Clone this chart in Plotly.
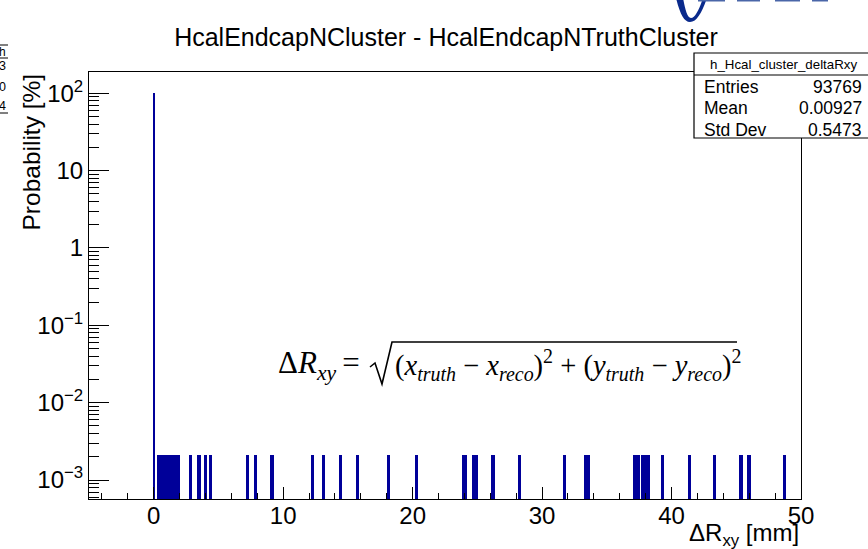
import plotly.graph_objects as go

# ---------------- data ----------------
bin_width = 0.25
peak_x = [0.0]
peak_prob = [99.91]
tail_x = [0.375, 0.625, 0.875, 1.125, 1.375, 1.625, 1.875,
          2.86, 3.5, 4.0, 4.4, 7.23, 7.88, 9.14, 12.25, 13.13, 14.42, 15.73,
          18.14, 20.3, 23.9, 24.05, 24.68, 24.93, 26.2, 28.28, 31.76, 33.4, 33.55,
          37.15, 37.4, 37.8, 38.0, 38.2, 39.33, 41.37, 43.3, 45.36, 45.98, 48.72]
tail_prob = [0.00213, 0.00213, 0.00213, 0.00213, 0.00213, 0.00213, 0.00213,
             0.00213, 0.00213, 0.00213, 0.00213, 0.00213, 0.00213, 0.00213, 0.00213, 0.00213, 0.00213, 0.00213,
             0.00213, 0.00213, 0.00213, 0.00213, 0.00213, 0.00213, 0.00213, 0.00213, 0.00213, 0.00213, 0.00213,
             0.00213, 0.00213, 0.00213, 0.00213, 0.00213, 0.00213, 0.00213, 0.00213, 0.00213, 0.00213, 0.00213]
y_tickvals = [0.001, 0.01, 0.1, 1, 10, 100]
y_ticktext = ["10<sup>−3</sup>", "10<sup>−2</sup>", "10<sup>−1</sup>", "1", "10", "10<sup>2</sup>"]
hist_name = "h_Hcal_cluster_deltaRxy"
stat_labels = ["Entries", "Mean", "Std Dev"]
stat_values = ["93769", "0.00927", "0.5473"]
title_text = "HcalEndcapNCluster - HcalEndcapNTruthCluster"

# ---------------- layout geometry ----------------
W, H = 868, 549
L, R, T, B = 89, 801, 72, 499
def px(x):
    return (x - L) / (R - L)
def py(y):
    return (B - y) / (B - T)

BLUE = "#000099"
SANS = "Liberation Sans, Arial, sans-serif"
SERIF = "Liberation Serif, Times New Roman, serif"

fig = go.Figure()
fig.add_trace(go.Bar(x=peak_x, y=peak_prob, width=0.07,
                     marker=dict(color=BLUE, line=dict(width=0)), showlegend=False))
fig.add_trace(go.Bar(x=tail_x, y=tail_prob, width=bin_width,
                     marker=dict(color=BLUE, line=dict(width=0)), showlegend=False))

minor_y = [m * 10 ** e for e in range(-4, 3) for m in range(2, 10)]

fig.update_layout(
    width=W, height=H,
    margin=dict(l=L, r=W - R, t=T, b=H - B, pad=0),
    paper_bgcolor="white", plot_bgcolor="white",
    barmode="overlay", bargap=0,
    font=dict(family=SANS, color="black"),
    title=dict(text=title_text, x=446 / W, xref="container", xanchor="center",
               y=1 - 37 / H, yref="container", yanchor="middle",
               font=dict(size=25, family=SANS, color="black")),
    xaxis=dict(range=[-5, 50], tick0=0, dtick=10, ticks="inside", ticklen=12,
               tickcolor="black", tickwidth=1, ticklabelstandoff=-5,
               minor=dict(dtick=2, tick0=0, ticks="inside", ticklen=6, tickcolor="black", showgrid=False),
               showline=True, mirror=True, linecolor="black", linewidth=1,
               showgrid=False, zeroline=False, tickfont=dict(size=24, family=SANS)),
    yaxis=dict(type="log", range=[-3.245, 2.275], tickmode="array",
               tickvals=y_tickvals, ticktext=y_ticktext,
               ticks="inside", ticklen=20, tickcolor="black", tickwidth=1,
               minor=dict(tickmode="array", tickvals=minor_y, ticks="inside", ticklen=10,
                          tickcolor="black", showgrid=False),
               showline=True, mirror=True, linecolor="black", linewidth=1,
               showgrid=False, zeroline=False, tickfont=dict(size=24, family=SANS)),
)

shapes = []
annotations = []

# stats box
shapes.append(dict(type="rect", xref="paper", yref="paper", x0=px(694), x1=px(876), y0=py(138), y1=py(53),
                   fillcolor="white", line=dict(color="black", width=1.2), layer="above"))
shapes.append(dict(type="line", xref="paper", yref="paper", x0=px(694), x1=px(876), y0=py(75), y1=py(75),
                   line=dict(color="black", width=1.2), layer="above"))
annotations.append(dict(text=hist_name, xref="paper", yref="paper", x=px(783), y=py(65),
                        xanchor="center", yanchor="middle", showarrow=False,
                        font=dict(size=13.3, family=SANS)))
for i, (lab, val) in enumerate(zip(stat_labels, stat_values)):
    yy = 86.5 + i * 21.5
    annotations.append(dict(text=lab, xref="paper", yref="paper", x=px(702), y=py(yy),
                            xanchor="left", yanchor="middle", showarrow=False,
                            font=dict(size=17.5, family=SANS)))
    annotations.append(dict(text=val, xref="paper", yref="paper", x=px(864), y=py(yy),
                            xanchor="right", yanchor="middle", showarrow=False,
                            font=dict(size=17.5, family=SANS)))

# clipped neighbouring stats box at left edge
for yy in (45, 58, 113):
    shapes.append(dict(type="line", xref="paper", yref="paper", x0=px(0), x1=px(8), y0=py(yy), y1=py(yy),
                       line=dict(color="black", width=1)))
annotations.append(dict(text="h", xref="paper", yref="paper", x=px(8), y=py(52), xanchor="right",
                        yanchor="middle", showarrow=False, font=dict(size=12, family=SANS)))
for ch, yy in (("3", 66), ("0", 87), ("4", 106)):
    annotations.append(dict(text=ch, xref="paper", yref="paper", x=px(8), y=py(yy), xanchor="right",
                            yanchor="middle", showarrow=False, font=dict(size=12.5, family=SANS)))

# clipped logo at top
shapes.append(dict(type="path", xref="paper", yref="paper",
                   path="M {},{} C {},{} {},{} {},{} C {},{} {},{} {},{} L {},{} C {},{} {},{} {},{} C {},{} {},{} {},{} Z".format(
                       px(676), py(-2), px(680), py(14), px(684), py(22), px(690), py(22),
                       px(697), py(22), px(702), py(12), px(707), py(-2),
                       px(703), py(-2),
                       px(699), py(10), px(695), py(18), px(691), py(18),
                       px(687), py(18), px(685), py(8), px(683), py(-2)),
                   fillcolor="#0a2a8c", line=dict(width=0)))
for x0, x1 in ((698, 725), (737, 760), (775, 800), (812, 828)):
    shapes.append(dict(type="rect", xref="paper", yref="paper", x0=px(x0), x1=px(x1), y0=py(1.5), y1=py(-1),
                       fillcolor="#4a66a8", line=dict(width=0)))

# formula
annotations.append(dict(text="Δ<i>R</i><sub><i>xy</i></sub>\u2009=\u2009", xref="paper", yref="paper",
                        x=px(368), y=py(365), xanchor="right", yanchor="middle", showarrow=False,
                        font=dict(size=31, family=SERIF)))
annotations.append(dict(text="(<i>x</i><sub><i>truth</i></sub> − <i>x</i><sub><i>reco</i></sub>)<sup>2</sup> + "
                             "(<i>y</i><sub><i>truth</i></sub> − <i>y</i><sub><i>reco</i></sub>)<sup>2</sup>",
                        xref="paper", yref="paper", x=px(393), y=py(365), xanchor="left", yanchor="middle",
                        showarrow=False, font=dict(size=28.5, family=SERIF)))
shapes.append(dict(type="path", xref="paper", yref="paper",
                   path="M {},{} L {},{} L {},{} L {},{} L {},{}".format(
                       px(370), py(367), px(375), py(363), px(382), py(384), px(392), py(342), px(737), py(342)),
                   line=dict(color="black", width=1.6)))

# axis titles
annotations.append(dict(text="Probability [%]", xref="paper", yref="paper", x=px(31), y=py(72),
                        xanchor="center", yanchor="top", textangle=-90, showarrow=False,
                        font=dict(size=24.5, family=SANS)))
annotations.append(dict(text="ΔR<sub>xy</sub> [mm]", xref="paper", yref="paper", x=1.0, y=py(517),
                        xanchor="right", yanchor="top", showarrow=False,
                        font=dict(size=24, family=SANS)))

fig.update_layout(shapes=shapes, annotations=annotations)
fig.write_html("out.html", config={"displayModeBar": False},
               post_script="document.body.style.margin='0px';document.body.style.padding='0px';")
